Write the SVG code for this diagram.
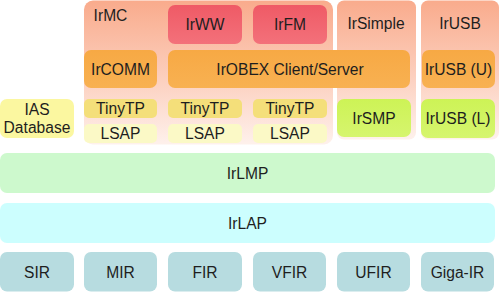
<svg xmlns="http://www.w3.org/2000/svg" width="500" height="292" viewBox="0 0 500 292">
<defs>
<linearGradient id="gBg" x1="0" y1="0" x2="0" y2="1">
<stop offset="0" stop-color="#f9ab8c"/>
<stop offset="0.55" stop-color="#fcd0bf"/>
<stop offset="1" stop-color="#fef1ec"/>
</linearGradient>
<linearGradient id="gRed" x1="0" y1="0" x2="0" y2="1">
<stop offset="0" stop-color="#ef5a66"/>
<stop offset="1" stop-color="#f3717a"/>
</linearGradient>
<linearGradient id="gOr" x1="0" y1="0" x2="0" y2="1">
<stop offset="0" stop-color="#f7a944"/>
<stop offset="1" stop-color="#f8b152"/>
</linearGradient>
<linearGradient id="gGy" x1="0" y1="0" x2="0" y2="1">
<stop offset="0" stop-color="#cdf356"/>
<stop offset="1" stop-color="#d6f56e"/>
</linearGradient>
</defs>
<style>
text{font-family:"Liberation Sans",Arial,sans-serif;font-size:15.6px;fill:#1e1e1e;text-anchor:middle}
.bg{fill:url(#gBg)}
.red{fill:url(#gRed)}
.or{fill:url(#gOr)}
.tt{fill:#f4df7a}
.ls{fill:#fbf9c6}
.ias{fill:#fbf7a0}
.gy{fill:url(#gGy)}
.lmp{fill:#cdf9cd}
.lap{fill:#ccfefe}
.phy{fill:#b7dce0}
</style>
<g id="irmc"><rect class="bg" x="84" y="0.5" width="249" height="144" rx="9"/><text x="110.5" y="21">IrMC</text></g>
<g id="irsimple"><rect class="bg" x="337" y="0.5" width="79" height="139" rx="7"/><text x="376" y="29">IrSimple</text></g>
<g id="irusb"><rect class="bg" x="421" y="0.5" width="78" height="139" rx="7"/><text x="460" y="29">IrUSB</text></g>
<g id="irww"><rect class="red" x="168" y="5" width="74" height="39" rx="7"/><text x="205" y="30">IrWW</text></g>
<g id="irfm"><rect class="red" x="253" y="5" width="74" height="39" rx="7"/><text x="290" y="30">IrFM</text></g>
<g id="ircomm"><rect class="or" x="84" y="50" width="73" height="38" rx="7"/><text x="120.5" y="74.5">IrCOMM</text></g>
<g id="irobex"><rect class="or" x="168" y="50" width="242" height="38" rx="7"/><text x="290" y="74.5">IrOBEX Client/Server</text></g>
<g id="irusbu"><rect class="or" x="422" y="50" width="73" height="38" rx="7"/><text x="458.5" y="74.5">IrUSB (U)</text></g>
<g id="tinytp1"><rect class="tt" x="84" y="99" width="73" height="19" rx="5"/><text x="120.5" y="114">TinyTP</text></g>
<g id="tinytp2"><rect class="tt" x="168" y="99" width="74" height="19" rx="5"/><text x="205" y="114">TinyTP</text></g>
<g id="tinytp3"><rect class="tt" x="253" y="99" width="74" height="19" rx="5"/><text x="290" y="114">TinyTP</text></g>
<g id="lsap1"><rect class="ls" x="84" y="124" width="73" height="19" rx="5"/><text x="120.5" y="139">LSAP</text></g>
<g id="lsap2"><rect class="ls" x="168" y="124" width="74" height="19" rx="5"/><text x="205" y="139">LSAP</text></g>
<g id="lsap3"><rect class="ls" x="253" y="124" width="74" height="19" rx="5"/><text x="290" y="139">LSAP</text></g>
<g id="ias"><rect class="ias" x="0" y="99" width="74" height="39" rx="7"/><text x="37" y="115">IAS</text><text x="37" y="133">Database</text></g>
<g id="irsmp"><rect class="gy" x="337" y="99" width="74" height="38" rx="7"/><text x="374" y="123.5">IrSMP</text></g>
<g id="irusbl"><rect class="gy" x="421" y="99" width="74" height="39" rx="7"/><text x="458" y="123.5">IrUSB (L)</text></g>
<g id="irlmp"><rect class="lmp" x="0" y="153" width="495" height="40" rx="7"/><text x="247.5" y="178.5">IrLMP</text></g>
<g id="irlap"><rect class="lap" x="0" y="203" width="495" height="40" rx="7"/><text x="247.5" y="228.5">IrLAP</text></g>
<g id="sir"><rect class="phy" x="0" y="252" width="74" height="39.5" rx="7"/><text x="37" y="277.5">SIR</text></g>
<g id="mir"><rect class="phy" x="84" y="252" width="73" height="39.5" rx="7"/><text x="120.5" y="277.5">MIR</text></g>
<g id="fir"><rect class="phy" x="168" y="252" width="74" height="39.5" rx="7"/><text x="205" y="277.5">FIR</text></g>
<g id="vfir"><rect class="phy" x="253" y="252" width="73" height="39.5" rx="7"/><text x="289.5" y="277.5">VFIR</text></g>
<g id="ufir"><rect class="phy" x="337" y="252" width="73" height="39.5" rx="7"/><text x="373.5" y="277.5">UFIR</text></g>
<g id="gigair"><rect class="phy" x="421" y="252" width="73" height="39.5" rx="7"/><text x="457.5" y="277.5">Giga-IR</text></g>
<g id="connectors"/>
</svg>
